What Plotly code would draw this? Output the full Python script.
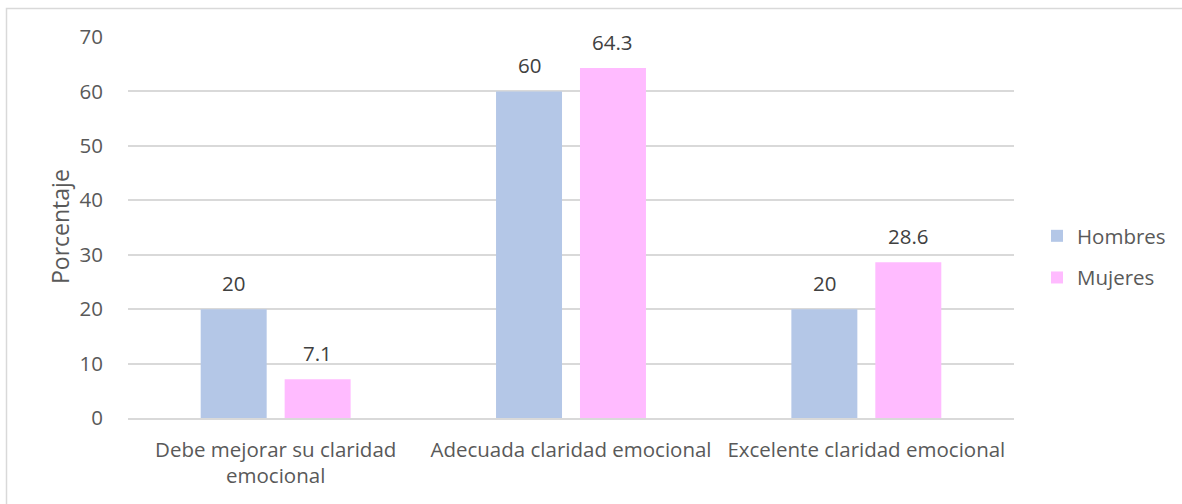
import plotly.graph_objects as go

# Niveles de claridad emocional por sexo (porcentaje)
categorias = ["Debe mejorar su claridad<br>emocional",
              "Adecuada claridad emocional",
              "Excelente claridad emocional"]
hombres = [20, 60, 20]
mujeres = [7.1, 64.3, 28.6]
etiquetas_hombres = ["20", "60", "20"]
etiquetas_mujeres = ["7.1", "64.3", "28.6"]
ticks_y = [0, 10, 20, 30, 40, 50, 60, 70]

W, H = 1182, 504
ML, MR, MT, MB = 128, 168, 37, 86
PW, PH = W - ML - MR, H - MT - MB

FONT = "Open Sans"
FS = 20.5
GRIS_TEXTO = "#595959"
GRIS_ETIQ = "#404040"
GRIS_LINEA = "#d9d9d9"

# separación de barras dentro de cada grupo (en px)
CAT_W = PW / len(categorias)
BARGAP = 0.4315
BARGROUPGAP = 0.214
SLOT = CAT_W * (1 - BARGAP) / 2

fig = go.Figure()
fig.add_trace(go.Bar(
    name="Hombres", x=categorias, y=hombres,
    marker=dict(color="#B4C7E7", line=dict(width=0)),
    legendgroup="h",
))
fig.add_trace(go.Bar(
    name="Mujeres", x=categorias, y=mujeres,
    marker=dict(color="#FFBBFF", line=dict(width=0)),
    legendgroup="m",
))


def px_x(p):
    return (p - ML) / PW


def px_y(p):
    return (H - MB - p) / PH


# etiquetas de valor sobre cada barra
anotaciones = []
for serie, etiquetas, desplaz in ((hombres, etiquetas_hombres, -SLOT / 2),
                                  (mujeres, etiquetas_mujeres, SLOT / 2)):
    for cat, val, txt in zip(categorias, serie, etiquetas):
        anotaciones.append(dict(
            x=cat, y=val, xref="x", yref="y", text=txt, showarrow=False,
            xshift=desplaz, yshift=26, xanchor="center", yanchor="middle",
            font=dict(family=FONT, size=FS, color=GRIS_ETIQ),
        ))

anotaciones.append(dict(
    text="Porcentaje", textangle=-90, showarrow=False,
    xref="paper", yref="paper", x=px_x(60), y=px_y(227),
    xanchor="center", yanchor="middle",
    font=dict(family=FONT, size=23, color=GRIS_TEXTO),
))

fig.update_layout(
    width=W, height=H,
    margin=dict(l=ML, r=MR, t=MT, b=MB, pad=0, autoexpand=False),
    paper_bgcolor="white", plot_bgcolor="white",
    barmode="group", bargap=BARGAP, bargroupgap=BARGROUPGAP,
    font=dict(family=FONT, size=FS, color=GRIS_TEXTO),
    showlegend=True,
    legend=dict(
        x=px_x(1037), y=px_y(216), xanchor="left", yanchor="top",
        font=dict(family=FONT, size=FS, color=GRIS_TEXTO),
        tracegroupgap=12, itemwidth=30, bgcolor="rgba(0,0,0,0)",
    ),
    xaxis=dict(
        showgrid=False, showline=True, linecolor=GRIS_LINEA, linewidth=2,
        ticks="", tickfont=dict(family=FONT, size=FS, color=GRIS_TEXTO),
        ticklabelstandoff=12, zeroline=False,
    ),
    yaxis=dict(
        range=[0, 70], tickvals=ticks_y, showgrid=True,
        gridcolor=GRIS_LINEA, gridwidth=2, zeroline=False,
        showline=False, ticks="",
        tickfont=dict(family=FONT, size=FS, color=GRIS_TEXTO),
        ticklabelstandoff=24,
    ),
    annotations=anotaciones,
    shapes=[dict(
        type="rect", xref="paper", yref="paper", layer="below",
        x0=px_x(6.5), x1=px_x(W + 20), y0=px_y(H + 20), y1=px_y(8.5),
        line=dict(color=GRIS_LINEA, width=1.5), fillcolor="rgba(0,0,0,0)",
    )],
)

fig.write_html("out.html")
